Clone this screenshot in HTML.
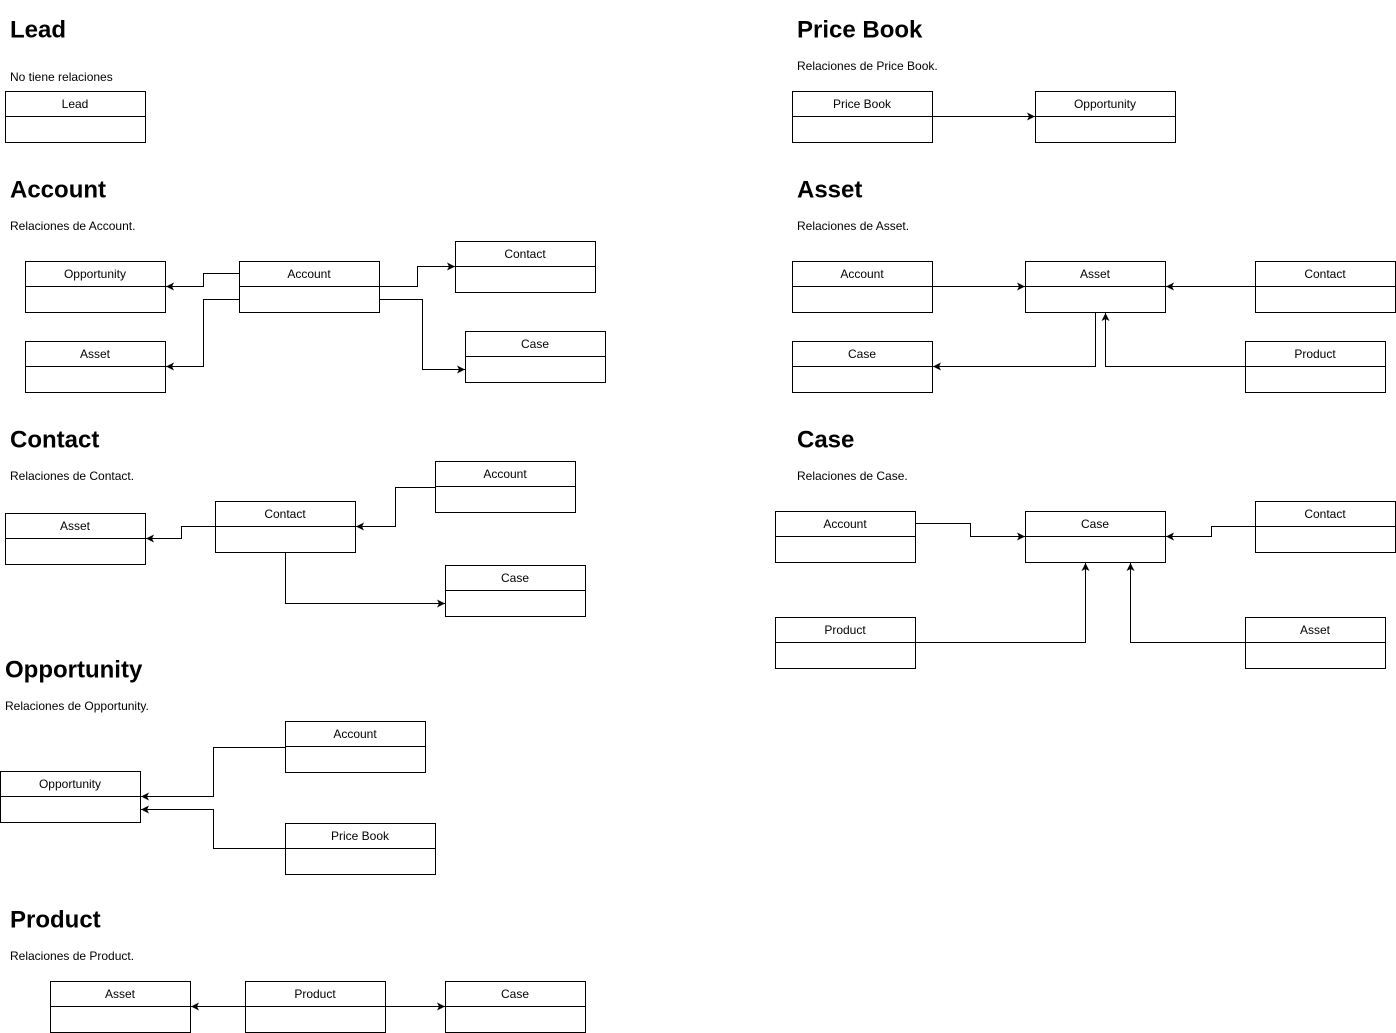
<!DOCTYPE html>
<html><head><meta charset="utf-8"><style>
html,body{margin:0;padding:0;background:#fff;}
svg{display:block;font-family:"Liberation Sans",Arial,sans-serif;}
.t{font-size:24px;font-weight:bold;fill:#000;}
.s{font-size:12px;fill:#000;}
.b{font-size:12px;fill:#000;text-anchor:middle;}
rect{fill:#fff;stroke:#000;stroke-width:1;}
.c{fill:none;stroke:#000;stroke-width:1;marker-end:url(#a);}
</style></head><body>
<svg width="1396" height="1033" viewBox="0 0 1396 1033">
<defs><marker id="a" markerWidth="10" markerHeight="10" refX="8" refY="4" orient="auto" markerUnits="userSpaceOnUse"><path d="M0,0 L8,4 L0,8 L2,4 Z" fill="#000"/></marker></defs>
<text class="t" x="10" y="30" dominant-baseline="central">Lead</text>
<text class="s" x="10" y="77" dominant-baseline="central">No tiene relaciones</text>
<text class="t" x="10" y="190" dominant-baseline="central">Account</text>
<text class="s" x="10" y="226" dominant-baseline="central">Relaciones de Account.</text>
<text class="t" x="10" y="440" dominant-baseline="central">Contact</text>
<text class="s" x="10" y="476" dominant-baseline="central">Relaciones de Contact.</text>
<text class="t" x="5" y="670" dominant-baseline="central">Opportunity</text>
<text class="s" x="5" y="706" dominant-baseline="central">Relaciones de Opportunity.</text>
<text class="t" x="10" y="920" dominant-baseline="central">Product</text>
<text class="s" x="10" y="956" dominant-baseline="central">Relaciones de Product.</text>
<text class="t" x="797" y="30" dominant-baseline="central">Price Book</text>
<text class="s" x="797" y="66" dominant-baseline="central">Relaciones de Price Book.</text>
<text class="t" x="797" y="190" dominant-baseline="central">Asset</text>
<text class="s" x="797" y="226" dominant-baseline="central">Relaciones de Asset.</text>
<text class="t" x="797" y="440" dominant-baseline="central">Case</text>
<text class="s" x="797" y="476" dominant-baseline="central">Relaciones de Case.</text>

<path class="c" d="M239.5,273.5 H203.5 V286.5 H166"/>
<path class="c" d="M239.5,299.5 H203.5 V366.5 H166"/>
<path class="c" d="M380,286.5 H417.5 V266.5 H455"/>
<path class="c" d="M380,299.5 H422.5 V369.5 H465"/>
<path class="c" d="M435.5,487.5 H395.5 V526.5 H356"/>
<path class="c" d="M215.5,526.5 H181.5 V538.5 H146"/>
<path class="c" d="M285.5,553 V603.5 H445"/>
<path class="c" d="M285.5,747.5 H213.5 V796.5 H141"/>
<path class="c" d="M285.5,848.5 H213.5 V809.5 H141"/>
<path class="c" d="M245.5,1006.5 H191"/>
<path class="c" d="M386,1006.5 H445"/>
<path class="c" d="M933,116.5 H1035"/>
<path class="c" d="M933,286.5 H1025"/>
<path class="c" d="M1255.5,286.5 H1166"/>
<path class="c" d="M1095.5,313 V366.5 H933"/>
<path class="c" d="M1245.5,366.5 H1105.5 V313"/>
<path class="c" d="M916,523.5 H970.5 V536.5 H1025"/>
<path class="c" d="M1255.5,526.5 H1211.5 V536.5 H1166"/>
<path class="c" d="M916,642.5 H1085.5 V563"/>
<path class="c" d="M1245.5,642.5 H1130.5 V563"/>

<g>
<rect x="5.5" y="91.5" width="140" height="51"/><line x1="5.5" y1="116.5" x2="145.5" y2="116.5" stroke="#000"/><text class="b" x="75" y="104" dominant-baseline="central">Lead</text>
<rect x="25.5" y="261.5" width="140" height="51"/><line x1="25.5" y1="286.5" x2="165.5" y2="286.5" stroke="#000"/><text class="b" x="95" y="274" dominant-baseline="central">Opportunity</text>
<rect x="239.5" y="261.5" width="140" height="51"/><line x1="239.5" y1="286.5" x2="379.5" y2="286.5" stroke="#000"/><text class="b" x="309" y="274" dominant-baseline="central">Account</text>
<rect x="455.5" y="241.5" width="140" height="51"/><line x1="455.5" y1="266.5" x2="595.5" y2="266.5" stroke="#000"/><text class="b" x="525" y="254" dominant-baseline="central">Contact</text>
<rect x="25.5" y="341.5" width="140" height="51"/><line x1="25.5" y1="366.5" x2="165.5" y2="366.5" stroke="#000"/><text class="b" x="95" y="354" dominant-baseline="central">Asset</text>
<rect x="465.5" y="331.5" width="140" height="51"/><line x1="465.5" y1="356.5" x2="605.5" y2="356.5" stroke="#000"/><text class="b" x="535" y="344" dominant-baseline="central">Case</text>

<rect x="215.5" y="501.5" width="140" height="51"/><line x1="215.5" y1="526.5" x2="355.5" y2="526.5" stroke="#000"/><text class="b" x="285" y="514" dominant-baseline="central">Contact</text>
<rect x="435.5" y="461.5" width="140" height="51"/><line x1="435.5" y1="486.5" x2="575.5" y2="486.5" stroke="#000"/><text class="b" x="505" y="474" dominant-baseline="central">Account</text>
<rect x="5.5" y="513.5" width="140" height="51"/><line x1="5.5" y1="538.5" x2="145.5" y2="538.5" stroke="#000"/><text class="b" x="75" y="526" dominant-baseline="central">Asset</text>
<rect x="445.5" y="565.5" width="140" height="51"/><line x1="445.5" y1="590.5" x2="585.5" y2="590.5" stroke="#000"/><text class="b" x="515" y="578" dominant-baseline="central">Case</text>

<rect x="285.5" y="721.5" width="140" height="51"/><line x1="285.5" y1="746.5" x2="425.5" y2="746.5" stroke="#000"/><text class="b" x="355" y="734" dominant-baseline="central">Account</text>
<rect x="0.5" y="771.5" width="140" height="51"/><line x1="0.5" y1="796.5" x2="140.5" y2="796.5" stroke="#000"/><text class="b" x="70" y="784" dominant-baseline="central">Opportunity</text>
<rect x="285.5" y="823.5" width="150" height="51"/><line x1="285.5" y1="848.5" x2="435.5" y2="848.5" stroke="#000"/><text class="b" x="360" y="836" dominant-baseline="central">Price Book</text>

<rect x="50.5" y="981.5" width="140" height="51"/><line x1="50.5" y1="1006.5" x2="190.5" y2="1006.5" stroke="#000"/><text class="b" x="120" y="994" dominant-baseline="central">Asset</text>
<rect x="245.5" y="981.5" width="140" height="51"/><line x1="245.5" y1="1006.5" x2="385.5" y2="1006.5" stroke="#000"/><text class="b" x="315" y="994" dominant-baseline="central">Product</text>
<rect x="445.5" y="981.5" width="140" height="51"/><line x1="445.5" y1="1006.5" x2="585.5" y2="1006.5" stroke="#000"/><text class="b" x="515" y="994" dominant-baseline="central">Case</text>

<rect x="792.5" y="91.5" width="140" height="51"/><line x1="792.5" y1="116.5" x2="932.5" y2="116.5" stroke="#000"/><text class="b" x="862" y="104" dominant-baseline="central">Price Book</text>
<rect x="1035.5" y="91.5" width="140" height="51"/><line x1="1035.5" y1="116.5" x2="1175.5" y2="116.5" stroke="#000"/><text class="b" x="1105" y="104" dominant-baseline="central">Opportunity</text>

<rect x="792.5" y="261.5" width="140" height="51"/><line x1="792.5" y1="286.5" x2="932.5" y2="286.5" stroke="#000"/><text class="b" x="862" y="274" dominant-baseline="central">Account</text>
<rect x="1025.5" y="261.5" width="140" height="51"/><line x1="1025.5" y1="286.5" x2="1165.5" y2="286.5" stroke="#000"/><text class="b" x="1095" y="274" dominant-baseline="central">Asset</text>
<rect x="1255.5" y="261.5" width="140" height="51"/><line x1="1255.5" y1="286.5" x2="1395.5" y2="286.5" stroke="#000"/><text class="b" x="1325" y="274" dominant-baseline="central">Contact</text>
<rect x="792.5" y="341.5" width="140" height="51"/><line x1="792.5" y1="366.5" x2="932.5" y2="366.5" stroke="#000"/><text class="b" x="862" y="354" dominant-baseline="central">Case</text>
<rect x="1245.5" y="341.5" width="140" height="51"/><line x1="1245.5" y1="366.5" x2="1385.5" y2="366.5" stroke="#000"/><text class="b" x="1315" y="354" dominant-baseline="central">Product</text>

<rect x="775.5" y="511.5" width="140" height="51"/><line x1="775.5" y1="536.5" x2="915.5" y2="536.5" stroke="#000"/><text class="b" x="845" y="524" dominant-baseline="central">Account</text>
<rect x="1025.5" y="511.5" width="140" height="51"/><line x1="1025.5" y1="536.5" x2="1165.5" y2="536.5" stroke="#000"/><text class="b" x="1095" y="524" dominant-baseline="central">Case</text>
<rect x="1255.5" y="501.5" width="140" height="51"/><line x1="1255.5" y1="526.5" x2="1395.5" y2="526.5" stroke="#000"/><text class="b" x="1325" y="514" dominant-baseline="central">Contact</text>
<rect x="775.5" y="617.5" width="140" height="51"/><line x1="775.5" y1="642.5" x2="915.5" y2="642.5" stroke="#000"/><text class="b" x="845" y="630" dominant-baseline="central">Product</text>
<rect x="1245.5" y="617.5" width="140" height="51"/><line x1="1245.5" y1="642.5" x2="1385.5" y2="642.5" stroke="#000"/><text class="b" x="1315" y="630" dominant-baseline="central">Asset</text>
</g>
</svg>
</body></html>
